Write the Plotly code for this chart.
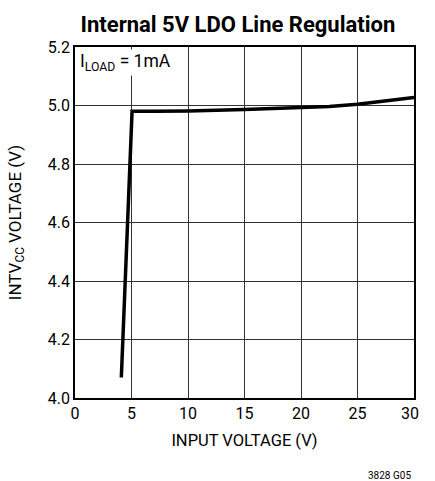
import plotly.graph_objects as go

# input voltage (V) vs INTVcc voltage (V)
vin = [4.1, 5.05, 7, 10, 15, 20, 22.5, 25, 27.5, 30]
vout = [4.07, 4.98, 4.98, 4.981, 4.986, 4.992, 4.997, 5.004, 5.014, 5.027]

x_ticks = [0, 5, 10, 15, 20, 25, 30]
x_labels = ["0", "5", "10", "15", "20", "25", "30&nbsp;&nbsp;"]
y_ticks = [4.0, 4.2, 4.4, 4.6, 4.8, 5.0, 5.2]

font = "Roboto, Liberation Sans, sans-serif"

fig = go.Figure()
fig.add_trace(go.Scatter(x=vin, y=vout, mode="lines",
                         line=dict(color="black", width=3.5),
                         showlegend=False, hoverinfo="skip"))

fig.update_xaxes(range=[0, 30], tickvals=x_ticks, ticktext=x_labels, showgrid=True,
                 gridcolor="#333", gridwidth=1, showline=True, linecolor="black",
                 linewidth=1.5, mirror=True, ticks="", zeroline=False,
                 ticklabeloverflow="allow",
                 tickfont=dict(size=16, color="black"),
                 title=dict(text="INPUT VOLTAGE (V)", font=dict(size=16.5, color="black"), standoff=12))
fig.update_yaxes(range=[4.0, 5.2], tickvals=y_ticks, tickformat=".1f", showgrid=True,
                 gridcolor="#333", gridwidth=1, showline=True, linecolor="black",
                 linewidth=1.5, mirror=True, ticks="", zeroline=False,
                 tickfont=dict(size=16, color="black"),
                 title=dict(text="INTV<sub>CC</sub> VOLTAGE (V)", font=dict(size=17, color="black"), standoff=22))

fig.add_annotation(x=0.01, y=0.995, xref="paper", yref="paper", xanchor="left", yanchor="top",
                   text="I<sub>LOAD</sub> = 1mA", showarrow=False, bgcolor="white",
                   font=dict(size=17.5, color="black", family=font))
fig.add_annotation(x=0.997, y=-0.22, xref="paper", yref="paper", xanchor="right", yanchor="middle",
                   text="3828 G05", showarrow=False, font=dict(size=10, color="black", family=font))

fig.update_layout(
    width=435, height=481,
    margin=dict(l=75, r=8, t=47, b=83),
    paper_bgcolor="white", plot_bgcolor="white",
    font=dict(family=font, color="black"),
    title=dict(text="<b>Internal 5V LDO Line Regulation</b>", x=0.547, xanchor="center",
               y=0.95, yanchor="middle", font=dict(size=22, color="black", family=font)),
)

# drop the default page margin so the figure sits at the window's corner
fig.write_html("out.html", config={"displayModeBar": False},
               post_script="document.body.style.margin='0';")
